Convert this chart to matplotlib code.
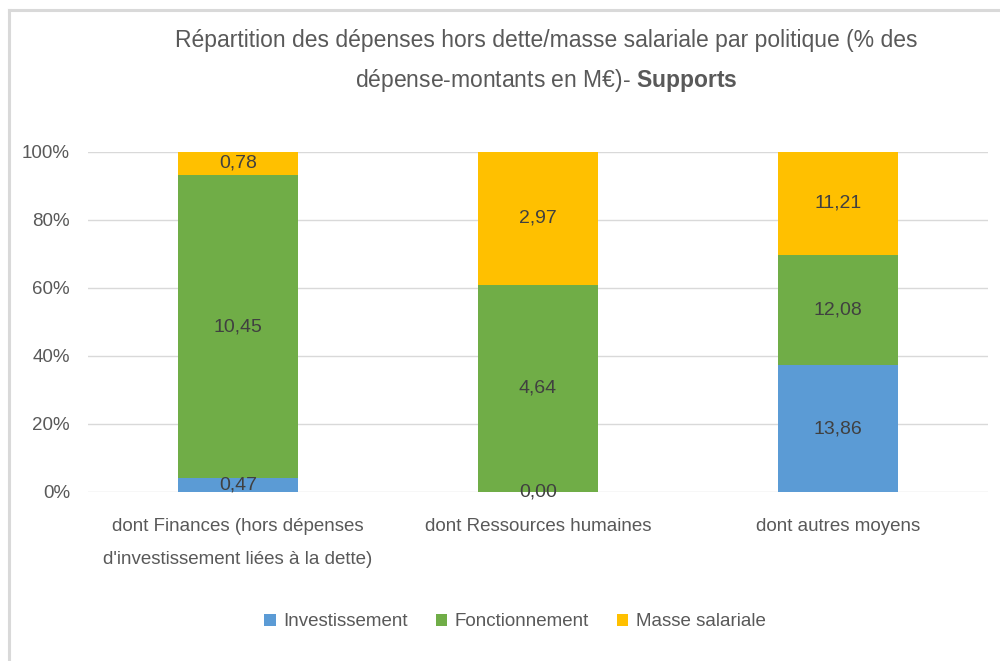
import matplotlib
matplotlib.use("Agg")
import matplotlib.pyplot as plt
from matplotlib.lines import Line2D
import numpy as np

categories = ["dont Finances (hors dépenses\nd'investissement liées à la dette)",
              "dont Ressources humaines",
              "dont autres moyens"]
investissement = [0.47, 0.00, 13.86]
fonctionnement = [10.45, 4.64, 12.08]
masse_salariale = [0.78, 2.97, 11.21]
series_names = ["Investissement", "Fonctionnement", "Masse salariale"]
colors = ["#5B9BD5", "#70AD47", "#FFC000"]
yticks = [0, 20, 40, 60, 80, 100]

plt.rcParams['font.family'] = ['Liberation Sans', 'DejaVu Sans']
plt.rcParams['mathtext.fontset'] = 'custom'
plt.rcParams['mathtext.rm'] = 'Liberation Sans'
plt.rcParams['mathtext.bf'] = 'Liberation Sans:bold'
txt = "#595959"

fig = plt.figure(figsize=(10, 6.61), dpi=100)
ax = fig.add_axes([0.088, 1 - 492/661, 0.9, 340/661])

data = np.array([investissement, fonctionnement, masse_salariale])
totals = data.sum(axis=0)
pct = data / totals * 100
x = np.arange(len(categories))
bottom = np.zeros(len(categories))
for i, name in enumerate(series_names):
    ax.bar(x, pct[i], 0.4, bottom=bottom, color=colors[i], label=name, zorder=3)
    for j in range(len(categories)):
        ax.text(x[j], bottom[j] + pct[i][j] / 2, f"{data[i][j]:.2f}".replace(".", ","),
                ha="center", va="center", fontsize=14, color="#404040", zorder=4)
    bottom += pct[i]

ax.set_xlim(-0.5, 2.5)
ax.set_ylim(0, 100)
ax.set_yticks(yticks)
ax.set_yticklabels([f"{v}%" for v in yticks], fontsize=13.5, color=txt)
ax.set_xticks(x)
ax.set_xticklabels(categories, fontsize=13.5, color=txt, linespacing=2.2)
ax.tick_params(length=0)
ax.tick_params(axis='x', pad=19)
ax.tick_params(axis='y', pad=13)
ax.grid(axis='y', color="#D9D9D9", lw=1, zorder=0)
for s in ax.spines.values():
    s.set_visible(False)

fig.text(0.546, 1 - 40/661, "Répartition des dépenses hors dette/masse salariale par politique (% des",
         ha="center", va="center", fontsize=16.5, color=txt)
fig.text(0.546, 1 - 80/661, "dépense-montants en M€)- $\\bf{Supports}$",
         ha="center", va="center", fontsize=16.5, color=txt)

leg = fig.legend(loc="center", bbox_to_anchor=(0.515, 1 - 622/661), ncol=3, frameon=False,
                 fontsize=13.5, handlelength=0.6, handleheight=0.6, columnspacing=1.5,
                 handletextpad=0.4, labelcolor=txt)

# frame: top and left borders only
fig.lines.append(Line2D([0.0085, 1.0], [1 - 9.5/661, 1 - 9.5/661], transform=fig.transFigure,
                        color="#D9D9D9", lw=2.2))
fig.lines.append(Line2D([0.0085, 0.0085], [0.0, 1 - 9.5/661], transform=fig.transFigure,
                        color="#D9D9D9", lw=2.2))

fig.savefig("out.png", dpi=100)
